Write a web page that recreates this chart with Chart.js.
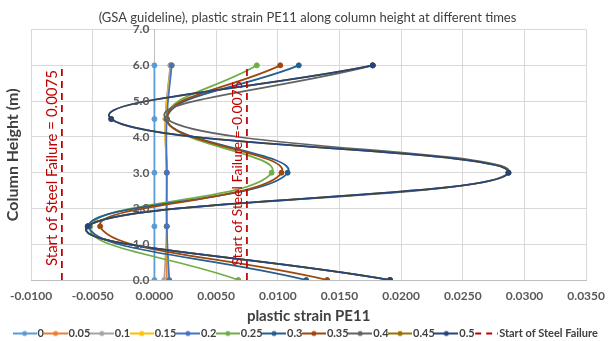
<!DOCTYPE html>
<html>
<head>
<meta charset="utf-8">
<script src="https://cdn.jsdelivr.net/npm/chart.js@4.4.1/dist/chart.umd.min.js"></script>
<style>
  html, body { margin: 0; padding: 0; background: #fff; }
  #wrap { width: 615px; height: 341px; }
</style>
</head>
<body>
<div id="wrap"><canvas id="pe11Chart" width="615" height="341"></canvas></div>
<script>
// Heights along the column where PE11 was sampled (m)
const heights = [0.0, 1.5, 3.0, 4.5, 6.0];

// Analysis times shown in the legend
const timeLabels = ["0", "0.05", "0.1", "0.15", "0.2", "0.25", "0.3", "0.35", "0.4", "0.45", "0.5"];

// PE11 at each height, one array per time step
const pe11_t000 = [0.0000, 0.0000, 0.0000, 0.0000, 0.0000];
const pe11_t005 = [0.0010, 0.0010, 0.0010, 0.0009, 0.0013];
const pe11_t010 = [0.0008, 0.0010, 0.0010, 0.0009, 0.0013];
const pe11_t015 = [0.0011, 0.0010, 0.0010, 0.0009, 0.0014];
const pe11_t020 = [0.0012, 0.0010, 0.0010, 0.0010, 0.0014];
const pe11_t025 = [0.0068, -0.0052, 0.0095, 0.0010, 0.0083];
const pe11_t030 = [0.0123, -0.0053, 0.0108, 0.0010, 0.0117];
const pe11_t035 = [0.0140, -0.0044, 0.0103, 0.0010, 0.0102];
const pe11_t040 = [0.0191, -0.0054, 0.0287, 0.0010, 0.0177];
const pe11_t045 = [0.0191, -0.0054, 0.0287, -0.0035, 0.0177];
const pe11_t050 = [0.0191, -0.0054, 0.0287, -0.0035, 0.0177];

// Steel failure strain and the span of the marker lines
const failureStrain = 0.0075;
const failureSpan = [0.0, 6.0];

const allSeries = [pe11_t000, pe11_t005, pe11_t010, pe11_t015, pe11_t020, pe11_t025,
                   pe11_t030, pe11_t035, pe11_t040, pe11_t045, pe11_t050];

const seriesColors = ["#5B9BD5", "#ED7D31", "#A5A5A5", "#FFC000", "#4472C4", "#70AD47",
                      "#255E91", "#9E480E", "#636363", "#997300", "#264478"];
const failureColor = "#C00000";

Chart.defaults.font.family = "Lato, 'Open Sans', sans-serif";

// small line + dot swatch for the legend
function makeSwatch(color, dashed) {
    const c = document.createElement("canvas");
    c.width = 24;
    c.height = 8;
    const g = c.getContext("2d");
    g.strokeStyle = color;
    g.lineWidth = 2;
    if (dashed) g.setLineDash([6, 5]);
    g.beginPath();
    g.moveTo(dashed ? 1 : 0, 4);
    g.lineTo(24, 4);
    g.stroke();
    if (!dashed) {
        g.fillStyle = color;
        g.beginPath();
        g.arc(12, 4, 2.5, 0, Math.PI * 2);
        g.fill();
    }
    return c;
}

const datasets = allSeries.map((values, i) => ({
    label: timeLabels[i],
    data: heights.map((h, k) => ({ x: values[k], y: h })),
    borderColor: seriesColors[i],
    backgroundColor: seriesColors[i],
    borderWidth: 1.75,
    pointRadius: 2.5,
    pointBorderWidth: 1,
    showLine: true,
    tension: 0.45,
    order: -i
}));

// dashed failure limits on both sides of zero
[-failureStrain, failureStrain].forEach((v, i) => {
    datasets.push({
        label: i === 0 ? "Start of Steel Failure" : "failure_right",
        data: failureSpan.map(h => ({ x: v, y: h })),
        borderColor: failureColor,
        backgroundColor: failureColor,
        borderWidth: 1.75,
        borderDash: [7, 5],
        pointRadius: 0,
        showLine: true,
        tension: 0,
        order: -100
    });
});

// y tick labels, y title and the rotated failure notes, drawn over the lines
const overlayText = {
    id: "overlayText",
    afterDatasetsDraw(chart) {
        const { ctx, chartArea, scales } = chart;
        const xs = scales.x, ys = scales.y;
        const x0 = xs.getPixelForValue(0);
        ctx.save();

        ctx.fillStyle = "#595959";
        ctx.font = "bold 12px Lato";
        ctx.textAlign = "right";
        ctx.textBaseline = "middle";
        ys.ticks.forEach(t => {
            ctx.fillText(t.value.toFixed(1), x0 - 5, ys.getPixelForValue(t.value));
        });

        ctx.fillStyle = "#404040";
        ctx.font = "bold 16px Lato";
        ctx.textAlign = "center";
        ctx.textBaseline = "middle";
        ctx.translate(13, (chartArea.top + chartArea.bottom) / 2);
        ctx.rotate(-Math.PI / 2);
        ctx.fillText("Column Height (m)", 0, 0);
        ctx.setTransform(1, 0, 0, 1, 0, 0);

        ctx.fillStyle = failureColor;
        ctx.textBaseline = "bottom";
        const notes = [
            { x: -failureStrain, y: 3.13, size: 15, text: "Start of Steel Failure = 0.0075" },
            { x: failureStrain, y: 2.98, size: 14, text: "Start of Steel Failure =-0.0075" }
        ];
        notes.forEach(n => {
            ctx.save();
            ctx.font = n.size + "px Lato";
            ctx.translate(xs.getPixelForValue(n.x) - 2, ys.getPixelForValue(n.y));
            ctx.rotate(-Math.PI / 2);
            ctx.fillText(n.text, 0, 0);
            ctx.restore();
        });
        ctx.restore();
    }
};

// empty side scales that only reserve room around the plot
const spacer = (pos, w) => ({
    type: "linear",
    position: pos,
    display: true,
    ticks: { display: false },
    grid: { display: false },
    border: { display: false },
    afterFit(scale) { scale.width = w; }
});

const ctx = document.getElementById("pe11Chart").getContext("2d");
new Chart(ctx, {
    type: "scatter",
    data: { datasets: datasets },
    options: {
        responsive: false,
        animation: false,
        layout: { padding: { left: 3, right: 3, top: 0, bottom: -8 } },
        scales: {
            x: {
                type: "linear",
                min: -0.01,
                max: 0.035,
                ticks: {
                    stepSize: 0.005,
                    color: "#595959",
                    font: { size: 12, weight: "bold", lineHeight: 1 },
                    padding: 10,
                    callback: v => (Math.abs(v) < 1e-9 ? "0.0000" : v.toFixed(4))
                },
                grid: { color: "#D9D9D9", drawTicks: false },
                border: { color: "#BFBFBF" },
                title: {
                    display: true,
                    text: "plastic strain PE11",
                    color: "#404040",
                    font: { size: 15, weight: "bold", lineHeight: 1 },
                    padding: { top: -3, bottom: 0 }
                }
            },
            y: {
                type: "linear",
                min: 0,
                max: 7,
                position: { x: 0 },
                ticks: { stepSize: 1, display: false },
                grid: { color: "#D9D9D9", drawTicks: false },
                border: { color: "#BFBFBF" }
            },
            padLeft: spacer("left", 28),
            padRight: spacer("right", 20)
        },
        plugins: {
            title: {
                display: true,
                text: "(GSA guideline), plastic strain PE11 along column height at different times",
                color: "#404040",
                font: { size: 13, weight: "normal" },
                padding: { top: 10, bottom: 4 }
            },
            tooltip: { enabled: false },
            legend: {
                position: "bottom",
                labels: {
                    usePointStyle: true,
                    pointStyleWidth: 15,
                    padding: 4,
                    color: "#404040",
                    font: { size: 11, weight: "bold" },
                    generateLabels(chart) {
                        const items = Chart.defaults.plugins.legend.labels.generateLabels(chart);
                        return items
                            .filter(it => it.text !== "failure_right")
                            .sort((a, b) => a.datasetIndex - b.datasetIndex)
                            .map(it => {
                                const ds = chart.data.datasets[it.datasetIndex];
                                it.pointStyle = makeSwatch(ds.borderColor, !!ds.borderDash);
                                return it;
                            });
                    }
                }
            }
        }
    },
    plugins: [overlayText]
});
</script>
</body>
</html>
